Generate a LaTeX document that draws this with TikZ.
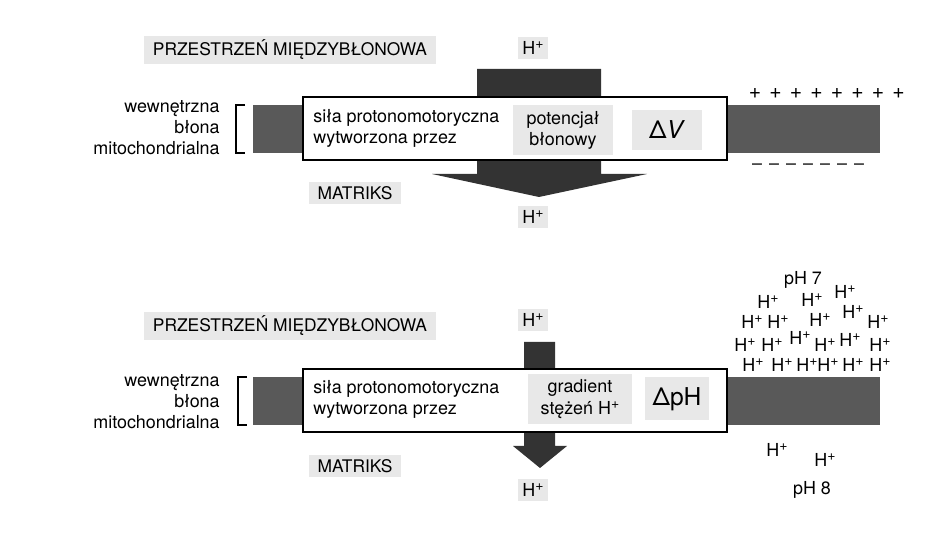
\documentclass[tikz,border=0pt]{standalone}
\usepackage{fontspec}
\setmainfont{TeX Gyre Heros}

\definecolor{labelgray}{gray}{0.91}
\definecolor{membrane}{gray}{0.35}
\definecolor{pumpdark}{gray}{0.2}

% proton with a readable superscript
\newcommand{\hplus}{H\raisebox{0.6ex}{\fontsize{8}{8}\selectfont +}}

\begin{document}
\begin{tikzpicture}[
    x=0.02cm, y=-0.02cm,
    every node/.style={font=\fontsize{10.2}{12}\selectfont},
    tag/.style={fill=labelgray, inner sep=2.5pt},
    captag/.style={tag, inner xsep=5pt, font=\fontsize{9.9}{11}\selectfont},
    quantity/.style={fill=labelgray, align=center, minimum height=0.86cm},
    memlabel/.style={anchor=east, align=right, inner sep=0pt},
    pmftext/.style={anchor=west, align=left, inner sep=0pt},
    proton/.style={inner sep=1pt}
]
\useasboundingbox (0,0) rectangle (944,546);

% Parameters
\def\memL{253}
\def\memR{880}
\def\boxL{303}
\def\boxR{727}

% === Upper panel: membrane potential ===
\fill[membrane] (\memL,105) rectangle (\memR,153);

% wide proton arrow
\fill[pumpdark] (477,69) -- (601,69) -- (601,174) -- (647,174)
    -- (539,197) -- (432,174) -- (477,174) -- cycle;

\draw[fill=white, line width=0.9pt] (\boxL,97) rectangle (\boxR,160);

\node[memlabel] (memA) at (220,128) {wewnętrzna\\błona\\mitochondrialna};
\draw[line width=0.7pt] (245,105) -| (236,153) -- (245,153);

\node[pmftext] (pmfA) at (313,128) {siła protonomotoryczna\\wytworzona przez};
\node[quantity, minimum width=2cm] (potA) at (563,130) {potencjał\\błonowy};
\node[quantity, minimum width=1.42cm, minimum height=0.8cm,
      font=\fontsize{14}{16}\selectfont] (dV) at (667,130) {Δ\textit{V}};

\node[captag] (spaceA) at (290,50) {PRZESTRZEŃ MIĘDZYBŁONOWA};
\node[captag] (matA) at (355,193) {MATRIKS};
\node[tag] (hinA) at (533,48) {\hplus};
\node[tag] (houtA) at (533,217) {\hplus};

% charges on both sides
\foreach \i in {0,...,7}
    \node[font=\fontsize{12}{12}\selectfont] (plus\i) at ({755+20.5*\i},94) {+};
\foreach \i in {0,...,6}
    \node (minus\i) at ({757+17*\i},167) {--};

% === Lower panel: concentration gradient ===
\fill[membrane] (\memL,377) rectangle (\memR,425);

% narrow proton arrow
\fill[pumpdark] (524,342) -- (555,342) -- (555,446) -- (567,446)
    -- (540,468) -- (513,446) -- (524,446) -- cycle;

\draw[fill=white, line width=0.9pt] (\boxL,369) rectangle (\boxR,432);

\node[memlabel] (memB) at (220,402) {wewnętrzna\\błona\\mitochondrialna};
\draw[line width=0.7pt] (247,377) -| (238,425) -- (247,425);

\node[pmftext] (pmfB) at (313,399) {siła protonomotoryczna\\wytworzona przez};
\node[quantity, minimum width=2.1cm] (gradB) at (580,399) {gradient\\stężeń \hplus};
\node[quantity, minimum width=1.3cm,
      font=\fontsize{14}{16}\selectfont] (dpH) at (677,399) {ΔpH};

\node[captag] (spaceB) at (290,326) {PRZESTRZEŃ MIĘDZYBŁONOWA};
\node[captag] (matB) at (355,466) {MATRIKS};
\node[tag] (hinB) at (533,320) {\hplus};
\node[tag] (houtB) at (533,490) {\hplus};

% protons above and below the membrane
\node (ph7) at (803,280) {pH 7};
\foreach \x/\y [count=\n] in {768/302, 812/300, 845/292,
        752/322, 778/322, 820/320, 853/312, 878/322,
        745/345, 772/345, 800/338, 825/345, 850/340, 880/345,
        753/365, 782/365, 807/365, 828/365, 853/365, 880/365}
    \node[proton] (hi\n) at (\x,\y) {\hplus};
\node[proton] (lo1) at (777,450) {\hplus};
\node[proton] (lo2) at (825,460) {\hplus};
\node (ph8) at (812,490) {pH 8};

\end{tikzpicture}
\end{document}
